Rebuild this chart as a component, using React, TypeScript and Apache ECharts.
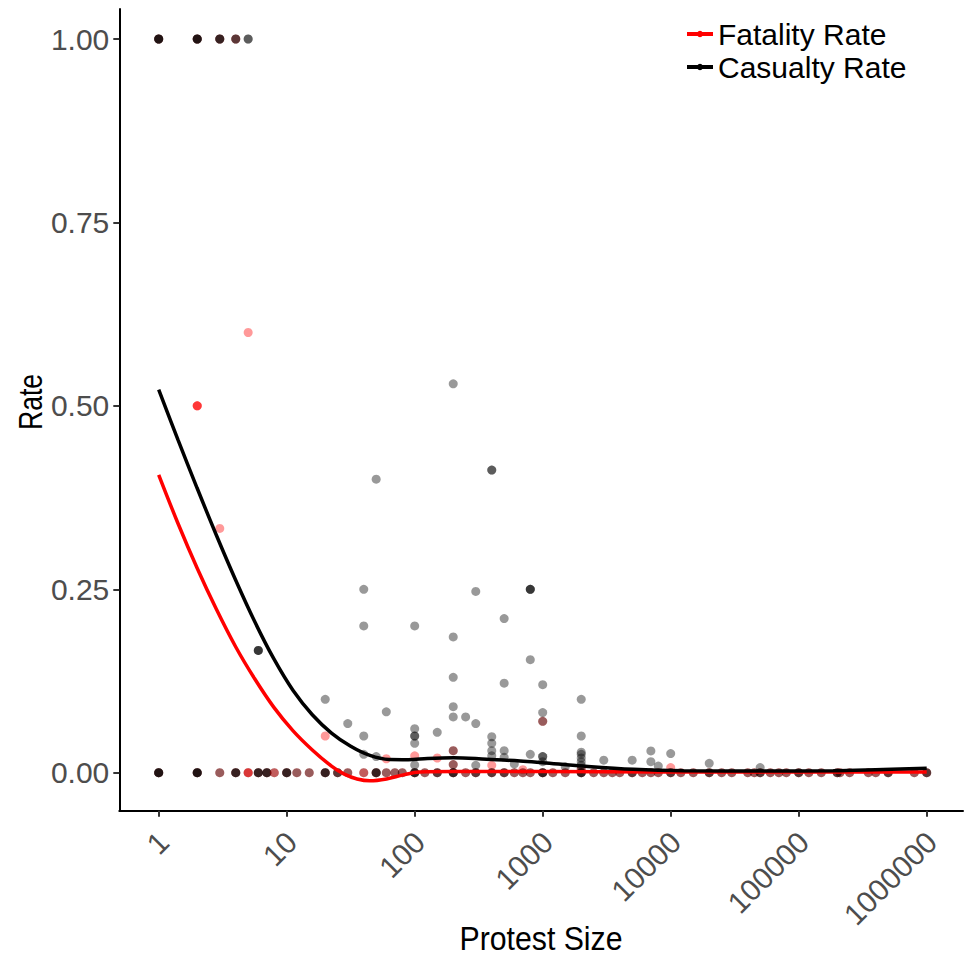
import React, { useEffect, useRef } from 'react';
import * as echarts from 'echarts';

// ---------- data ----------
const xTickValues = [1, 10, 100, 1000, 10000, 100000, 1000000];
const yTickValues = [0, 0.25, 0.5, 0.75, 1];

// smoothed (loess) curves: [protest size, rate]
const fatalityCurve: [number, number][] = [
  [1, 0.406], [1.413, 0.34], [1.995, 0.279], [2.818, 0.223], [3.981, 0.172], [5.623, 0.128],
  [7.943, 0.089], [11.22, 0.057], [15.85, 0.031], [22.39, 0.009], [28.18, -0.002],
  [35.48, -0.0085], [44.67, -0.011], [60.26, -0.0085], [81.28, -0.003], [109.6, 0.001],
  [199.5, 0.0015], [1000, 0.0015], [10000, 0.001], [100000, 0.001], [1000000, 0.001],
];
const casualtyCurve: [number, number][] = [
  [1, 0.522], [1.413, 0.454], [1.995, 0.388], [2.818, 0.324], [3.981, 0.263], [5.623, 0.206],
  [7.943, 0.155], [11.22, 0.112], [15.85, 0.079], [22.39, 0.054], [31.62, 0.036],
  [44.67, 0.0235], [63.1, 0.018], [89.1, 0.0178], [125.9, 0.0195], [200, 0.0205],
  [365, 0.0183], [665, 0.016], [1000, 0.0136], [2075, 0.009], [5105, 0.0046],
  [12590, 0.0027], [56234, 0.0023], [186209, 0.0027], [457088, 0.0045], [1000000, 0.006],
];

// sizes with observations at rate 0
const zeroSizes = [
  1, 2, 3, 4, 5, 6, 7, 8, 10, 12, 15, 20, 25, 30, 40, 50, 60, 70, 80, 100, 120, 150,
  200, 250, 300, 400, 500, 600, 700, 800, 1000, 1200, 1500, 2000, 2500, 3000, 3500,
  4000, 5000, 6000, 7000, 8000, 10000, 12000, 15000, 20000, 25000, 30000, 40000,
  45000, 50000, 60000, 70000, 80000, 100000, 120000, 150000, 200000, 210000, 250000,
  350000, 400000, 500000, 800000, 1000000,
];
// extra overlapping zero observations of casualty rate (darker dots)
const casualtyZeroExtra = [1, 1, 1, 2, 2, 2, 4, 4, 6, 6, 7, 7, 10, 10, 20, 20, 25, 50, 50, 100, 100,
  150, 200, 200, 300, 400, 500, 1000, 1000, 2000, 2000, 5000, 10000, 20000, 50000, 100000,
  200000, 500000, 1000000];

// fatality rate observations (non-zero)
const fatalityPoints: [number, number][] = [
  [1, 1], [2, 1], [3, 1], [4, 1],
  [5, 0.6], [2, 0.5], [2, 0.5], [2, 0.5], [3, 0.333],
  [20, 0.05], [60, 0.019], [100, 0.023], [150, 0.02], [200, 0.03], [200, 0.011],
  [1000, 0.07], [10000, 0.007], [400, 0.01], [2000, 0.005], [700, 0.004],
];
// fatality observations plotted above casualty dots
const fatalityTopPoints: [number, number][] = [
  [5, 0], [8, 0], [40, 0], [5, 0],
];

// casualty rate observations (non-zero)
const casualtyPoints: [number, number][] = [
  [1, 1], [1, 1], [1, 1], [1, 1], [2, 1], [2, 1], [2, 1], [2, 1], [3, 1], [3, 1], [3, 1],
  [4, 1], [4, 1], [5, 1], [5, 1],
  [50, 0.4], [40, 0.25], [40, 0.2], [100, 0.2], [6, 0.1667], [6, 0.1667], [6, 0.1667],
  [20, 0.1], [200, 0.53], [400, 0.4125], [400, 0.4125], [300, 0.247],
  [800, 0.25], [800, 0.25], [800, 0.25], [500, 0.21], [200, 0.185], [800, 0.154],
  [200, 0.13], [500, 0.122], [1000, 0.12], [2000, 0.1], [60, 0.083], [30, 0.067],
  [40, 0.05], [100, 0.06], [100, 0.05], [100, 0.05], [100, 0.04], [200, 0.09], [200, 0.076],
  [250, 0.076], [300, 0.067], [150, 0.055], [400, 0.049], [400, 0.04], [200, 0.03],
  [40, 0.025], [50, 0.022], [100, 0.0105], [400, 0.023], [400, 0.03], [500, 0.03],
  [500, 0.021], [200, 0.011], [1000, 0.082], [1000, 0.07], [2000, 0.05],
  [2000, 0.028], [2000, 0.025], [2000, 0.02], [2000, 0.015], [2000, 0.01], [2000, 0.005],
  [800, 0.025], [1000, 0.022], [1000, 0.022], [1000, 0.015], [3000, 0.017], [5000, 0.017],
  [7000, 0.0296], [7000, 0.015], [8000, 0.009], [10000, 0.026], [20000, 0.0128],
  [50000, 0.007], [600, 0.012], [1500, 0.008], [300, 0.01],
];

// ---------- helpers ----------
const FONT = 'Liberation Sans, Arial, Helvetica, sans-serif';
const lg = (v: number) => Math.log10(v);
const toLog = (pts: [number, number][]) => pts.map(([s, r]) => [lg(s), r]);

export default function App() {
  const ref = useRef<HTMLDivElement>(null);

  useEffect(() => {
    if (!ref.current) return;
    const chart = echarts.init(ref.current, undefined, { renderer: 'svg' });

    const fatalityScatter = [
      ...toLog(fatalityPoints),
      ...zeroSizes.filter((s) => s !== 5 && s !== 8 && s !== 40).map((s) => [lg(s), 0]),
    ];
    const casualtyScatter = [
      ...toLog(casualtyPoints),
      ...zeroSizes.map((s) => [lg(s), 0]),
      ...casualtyZeroExtra.map((s) => [lg(s), 0]),
    ];

    const xTickLog = xTickValues.map(lg);

    chart.setOption({
      animation: false,
      backgroundColor: '#ffffff',
      grid: { left: 119.3, right: 3, top: 9, bottom: 145.3, containLabel: false },
      legend: {
        data: ['Fatality Rate', 'Casualty Rate'],
        orient: 'vertical',
        left: 680,
        top: 14,
        itemWidth: 26,
        itemHeight: 8,
        itemGap: 3,
        selectedMode: false,
        lineStyle: { width: 4 },
        textStyle: { fontSize: 30, color: '#000', fontFamily: FONT },
      },
      graphic: [
        {
          type: 'text',
          x: 541,
          y: 938,
          scaleX: 0.89,
          silent: true,
          style: {
            text: 'Protest Size',
            fontSize: 34,
            fontFamily: FONT,
            fill: '#000',
            textAlign: 'center',
            textVerticalAlign: 'middle',
          },
        },
        {
          type: 'text',
          x: 30,
          y: 402,
          rotation: Math.PI / 2,
          scaleX: 0.78,
          silent: true,
          style: {
            text: 'Rate',
            fontSize: 34,
            fontFamily: FONT,
            fill: '#000',
            textAlign: 'center',
            textVerticalAlign: 'middle',
          },
        },
      ],
      xAxis: {
        type: 'value',
        min: -0.3078,
        max: 6.2836,
        axisLine: { show: true, onZero: false, lineStyle: { color: '#000', width: 2 } },
        axisTick: { show: true, customValues: xTickLog, length: 6, lineStyle: { color: '#333', width: 2 } },
        axisLabel: {
          customValues: xTickLog,
          rotate: 45,
          align: 'right',
          verticalAlign: 'top',
          margin: 10,
          padding: [0, 8, 0, 0],
          fontSize: 30,
          color: '#4d4d4d',
          fontFamily: FONT,
          formatter: (v: number) => String(xTickValues[Math.round(v)]),
        },
        splitLine: { show: false },
      },
      yAxis: {
        type: 'value',
        min: -0.0518,
        max: 1.0409,
        axisLine: { show: true, onZero: false, lineStyle: { color: '#000', width: 2 } },
        axisTick: { show: true, customValues: yTickValues, length: 6, lineStyle: { color: '#333', width: 2 } },
        axisLabel: {
          customValues: yTickValues,
          margin: 10,
          fontSize: 30,
          color: '#4d4d4d',
          fontFamily: FONT,
          formatter: (v: number) => v.toFixed(2),
        },
        splitLine: { show: false },
      },
      series: [
        {
          name: 'fatality-points',
          type: 'scatter',
          data: fatalityScatter,
          symbolSize: 9,
          silent: true,
          itemStyle: { color: 'rgba(255,0,0,0.5)' },
        },
        {
          name: 'casualty-points',
          type: 'scatter',
          data: casualtyScatter,
          symbolSize: 9,
          silent: true,
          itemStyle: { color: 'rgba(0,0,0,0.5)' },
        },
        {
          name: 'fatality-points-top',
          type: 'scatter',
          data: toLog(fatalityTopPoints),
          symbolSize: 9,
          silent: true,
          itemStyle: { color: 'rgba(255,0,0,0.5)' },
        },
        {
          name: 'Fatality Rate',
          type: 'line',
          data: toLog(fatalityCurve),
          smooth: 0.35,
          showSymbol: false,
          symbol: 'circle',
          silent: true,
          itemStyle: { color: '#ff0000' },
          lineStyle: { color: '#ff0000', width: 3.5 },
          z: 5,
        },
        {
          name: 'Casualty Rate',
          type: 'line',
          data: toLog(casualtyCurve),
          smooth: 0.35,
          showSymbol: false,
          symbol: 'circle',
          silent: true,
          itemStyle: { color: '#000000' },
          lineStyle: { color: '#000000', width: 3.5 },
          z: 5,
        },
      ],
    });

    return () => chart.dispose();
  }, []);

  return (
    <div
      ref={ref}
      style={{ position: 'fixed', left: 0, top: 0, width: '966px', height: '956px', background: '#fff' }}
    />
  );
}
